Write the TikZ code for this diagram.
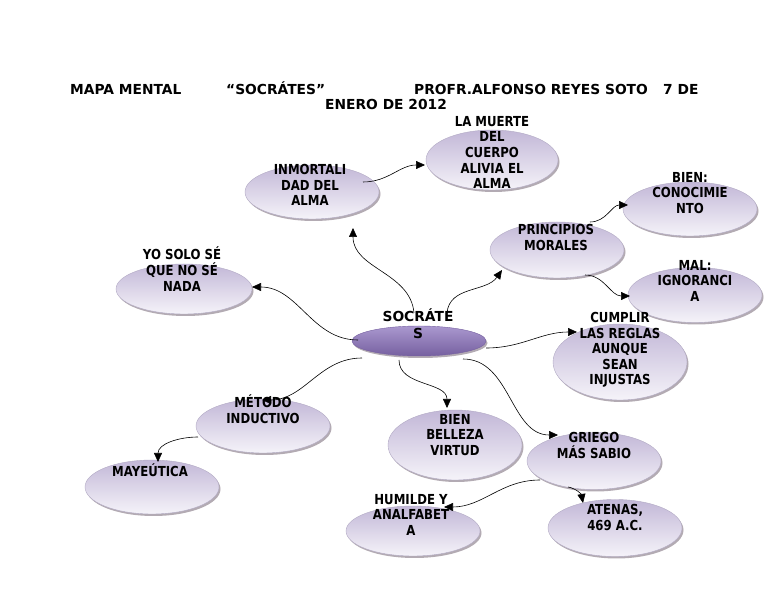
\documentclass[tikz,border=0pt]{standalone}
\usepackage{fontspec}
\usepackage{tikz}
\usepackage{xcolor}
\usetikzlibrary{shapes.geometric, shadows, arrows.meta}
\setmainfont{DejaVu Sans}
\newfontfamily\mapfont[FakeStretch=0.85]{DejaVu Sans}
\definecolor{bubbleTop}{RGB}{194, 183, 215}
\definecolor{bubbleBottom}{RGB}{245, 243, 249}
\definecolor{bubbleEdge}{RGB}{178, 170, 196}
\definecolor{hubTop}{RGB}{170, 152, 207}
\definecolor{hubBottom}{RGB}{118, 96, 160}
\tikzset{
  bubble/.style={ellipse, draw=bubbleEdge, line width=0.4pt, top color=bubbleTop, bottom color=bubbleBottom,
    inner sep=0pt, drop shadow={shadow xshift=1.5pt, shadow yshift=-2pt, fill=gray!90!violet, opacity=0.6}},
  hub/.style={bubble, draw=hubBottom, top color=hubTop, bottom color=hubBottom},
  lbl/.style={anchor=north, align=center, inner sep=0pt, font=\mapfont\bfseries\fontsize{13.8}{15.6}\selectfont},
  hublbl/.style={lbl, font=\bfseries\fontsize{13.8}{17}\selectfont},
  link/.style={-{Triangle[length=9pt, width=8pt]}, line width=0.6pt, black}
}

\begin{document}
\begin{tikzpicture}[x=1pt, y=1pt]
  \useasboundingbox (0,0) rectangle (768,594);
  % title
  \node[anchor=north west, align=left, inner sep=0pt, font=\bfseries\fontsize{13.8}{15}\selectfont] (title) at (70, 512)
    {\makebox[156pt][l]{MAPA MENTAL}\makebox[188pt][l]{“SOCRÁTES”}\makebox[249pt][l]{PROFR.ALFONSO REYES SOTO}7 DE\\
     \hspace*{255pt}ENERO DE 2012};

  % bubbles
  \node[hub, minimum width=134pt, minimum height=30pt] (soc) at (419, 253) {};
  \node[bubble, minimum width=134pt, minimum height=54pt] (inm) at (312, 402) {};
  \node[bubble, minimum width=132pt, minimum height=60pt] (mue) at (492, 434) {};
  \node[bubble, minimum width=134pt, minimum height=56pt] (pri) at (557, 344) {};
  \node[bubble, minimum width=134pt, minimum height=54pt] (bie) at (690, 385) {};
  \node[bubble, minimum width=134pt, minimum height=55pt] (mal) at (695, 299) {};
  \node[bubble, minimum width=134pt, minimum height=76pt] (cum) at (620, 232) {};
  \node[bubble, minimum width=136pt, minimum height=50pt] (yo) at (184, 305) {};
  \node[bubble, minimum width=134pt, minimum height=54pt] (met) at (263, 168) {};
  \node[bubble, minimum width=134pt, minimum height=54pt] (may) at (152, 107) {};
  \node[bubble, minimum width=134pt, minimum height=70pt] (bel) at (455, 149) {};
  \node[bubble, minimum width=134pt, minimum height=57pt] (gri) at (594, 133) {};
  \node[bubble, minimum width=134pt, minimum height=50pt] (hum) at (413, 63) {};
  \node[bubble, minimum width=134pt, minimum height=57pt] (ate) at (615, 66) {};

  % texts
  \node[hublbl] (socT) at (418, 285) {SOCRÁTE\\S};
  \node[lbl] (inmT) at (310, 430) {INMORTALI\\DAD DEL\\ALMA};
  \node[lbl] (mueT) at (492, 478) {LA MUERTE\\DEL\\CUERPO\\ALIVIA EL\\ALMA};
  \node[lbl] (priT) at (556, 370) {PRINCIPIOS\\MORALES};
  \node[lbl] (bieT) at (690, 422) {BIEN:\\CONOCIMIE\\NTO};
  \node[lbl] (malT) at (695, 334) {MAL:\\IGNORANCI\\A};
  \node[lbl] (cumT) at (620, 282) {CUMPLIR\\LAS REGLAS\\AUNQUE\\SEAN\\INJUSTAS};
  \node[lbl] (yoT) at (182, 347) {YO SOLO SÉ\\QUE NO SÉ\\NADA};
  \node[lbl] (metT) at (263, 199) {MÉTODO\\INDUCTIVO};
  \node[lbl] (mayT) at (150, 130) {MAYEÚTICA};
  \node[lbl] (belT) at (455, 180) {BIEN\\BELLEZA\\VIRTUD};
  \node[lbl] (griT) at (594, 162) {GRIEGO\\MÁS SABIO};
  \node[lbl] (humT) at (411, 100) {HUMILDE Y\\ANALFABET\\A};
  \node[lbl] (ateT) at (615, 90) {ATENAS,\\469 A.C.};

  % links
  \draw[link] ([shift={(-4,-4)}]socT.north) to[out=95, in=-90] ([shift={(41,-36)}]inm.center);
  \draw[link] ([shift={(29,-4)}]socT.north) to[out=85, in=-125] ([shift={(-55,-20)}]pri.center);
  \draw[link] ([shift={(51,10)}]inm.center) to[out=0, in=180] ([shift={(-67,-5)}]mue.center);
  \draw[link] ([shift={(33,28)}]pri.center) to[out=0, in=180] ([shift={(-62,4)}]bie.center);
  \draw[link] ([shift={(28,-25)}]pri.center) to[out=0, in=180] ([shift={(-65,-1)}]mal.center);
  \draw[link] ([shift={(67,-7)}]soc.center) to[out=0, in=180] ([shift={(-43,30)}]cum.center);
  \draw[link] ([shift={(-61,1)}]soc.center) to[out=180, in=0] ([shift={(68,2)}]yo.center);
  \draw[link] ([shift={(-57,-17)}]soc.center) to[out=180, in=0] ([shift={(-1,26)}]met.center);
  \draw[link] ([shift={(-20,-19)}]soc.center) to[out=-90, in=90] ([shift={(-8,37)}]bel.center);
  \draw[link] ([shift={(44,-18)}]soc.center) to[out=0, in=180] ([shift={(-36,26)}]gri.center);
  \draw[link] ([shift={(-65,-11)}]met.center) to[out=180, in=90] ([shift={(6,25)}]may.center);
  \draw[link] ([shift={(-54,-19)}]gri.center) to[out=180, in=0] ([shift={(31,24)}]hum.center);
  \draw[link] ([shift={(-26,-26)}]gri.center) to[out=-10, in=100] ([shift={(-32,25)}]ate.center);
\end{tikzpicture}
\end{document}
